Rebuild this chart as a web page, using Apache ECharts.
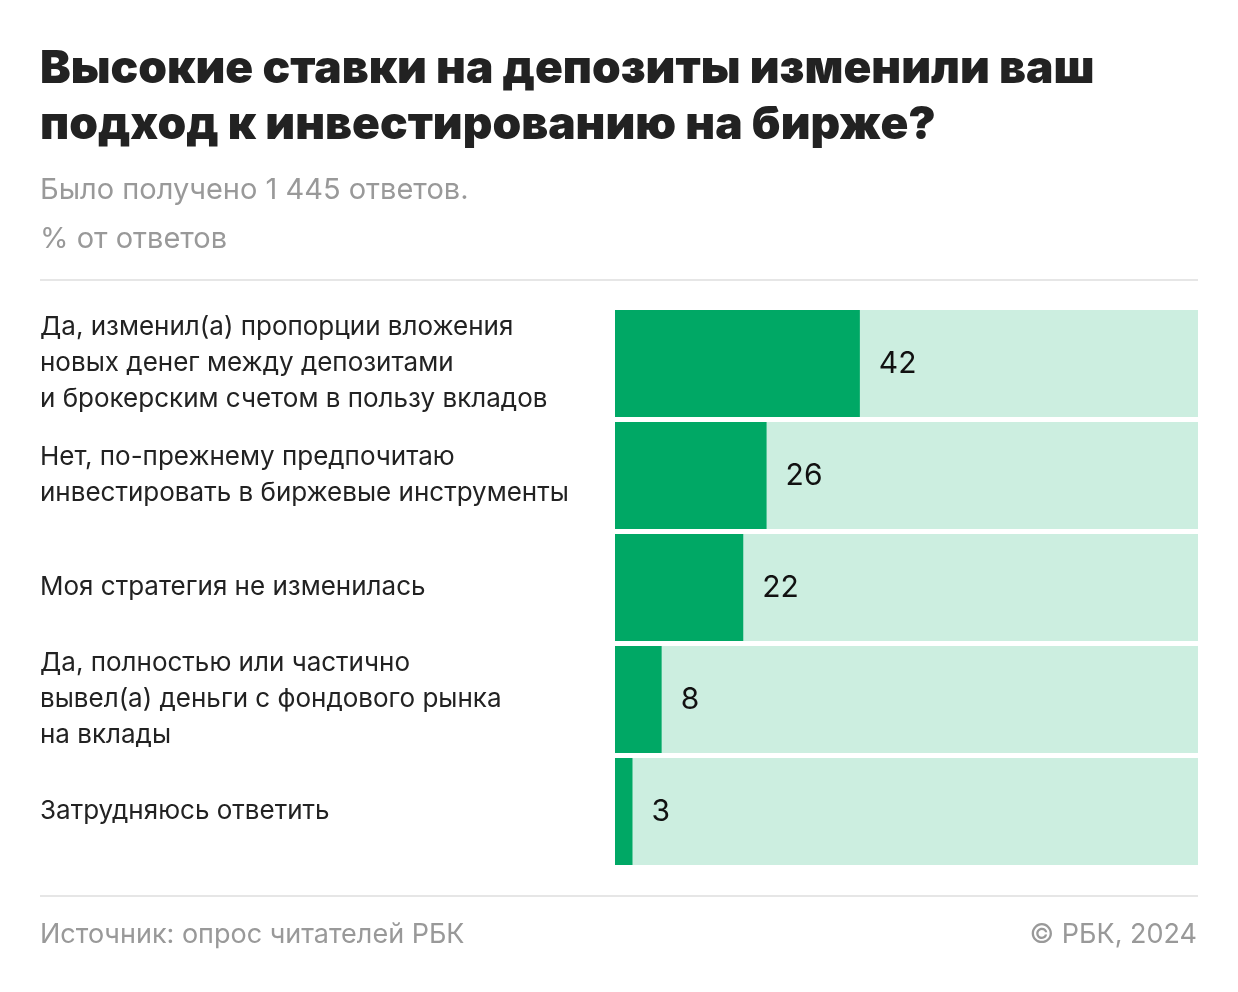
<!DOCTYPE html>
<html>
<head>
<meta charset="utf-8">
<script src="https://cdn.jsdelivr.net/npm/echarts@6/dist/echarts.min.js"></script>
<style>
html,body{margin:0;padding:0;background:#fff;}
#chart{width:1238px;height:992px;}
</style>
</head>
<body>
<div id="chart"></div>
<script>
const categories = [
  'Да, изменил(а) пропорции вложения\nновых денег между депозитами\nи брокерским счетом в пользу вкладов',
  'Нет, по-прежнему предпочитаю\nинвестировать в биржевые инструменты',
  'Моя стратегия не изменилась',
  'Да, полностью или частично\nвывел(а) деньги с фондового рынка\nна вклады',
  'Затрудняюсь ответить'
];
const values = [42, 26, 22, 8, 3];
const totals = [100, 100, 100, 100, 100];

const titleText = 'Высокие ставки на депозиты изменили ваш\nподход к инвестированию на бирже?';
const subtitle1 = 'Было получено 1 445 ответов.';
const subtitle2 = '% от ответов';
const sourceText = 'Источник: опрос читателей РБК';
const copyrightText = '© РБК, 2024';

const FONT = 'Inter, Roboto, sans-serif';
const chart = echarts.init(document.getElementById('chart'), null, {renderer: 'canvas'});
chart.setOption({
  backgroundColor: '#ffffff',
  animation: false,
  title: [
    {text: titleText, left: 40, top: 41, padding: 0,
     textStyle: {fontFamily: FONT, fontSize: 46, fontWeight: 900, color: '#222222', lineHeight: 56}},
    {text: subtitle1, left: 40, top: 172, padding: 0,
     textStyle: {fontFamily: FONT, fontSize: 29, fontWeight: 400, color: '#999999', lineHeight: 36}},
    {text: subtitle2, left: 40, top: 221, padding: 0,
     textStyle: {fontFamily: FONT, fontSize: 29, fontWeight: 400, color: '#999999', lineHeight: 36}},
    {text: sourceText, left: 40, top: 918, padding: 0,
     textStyle: {fontFamily: FONT, fontSize: 27, fontWeight: 400, color: '#999999', lineHeight: 34}},
    {text: copyrightText, right: 41, top: 918, padding: 0,
     textStyle: {fontFamily: FONT, fontSize: 27, fontWeight: 400, color: '#999999', lineHeight: 34}}
  ],
  graphic: [
    {type: 'line', shape: {x1: 40, y1: 280, x2: 1198, y2: 280}, style: {stroke: '#e6e6e6', lineWidth: 2}},
    {type: 'line', shape: {x1: 40, y1: 896, x2: 1198, y2: 896}, style: {stroke: '#e6e6e6', lineWidth: 2}}
  ],
  grid: {left: 615, right: 40, top: 307.5, height: 560, containLabel: false},
  xAxis: {type: 'value', min: 0, max: 100, show: false},
  yAxis: {
    type: 'category', data: categories, inverse: true,
    axisLine: {show: false}, axisTick: {show: false}, splitLine: {show: false},
    axisLabel: {
      align: 'left', margin: 575,
      fontFamily: FONT, fontSize: 26, color: '#222222', lineHeight: 36
    }
  },
  series: [
    {type: 'bar', data: totals, barWidth: 107, barGap: '-100%', silent: true,
     itemStyle: {color: '#cceee0'}, z: 1},
    {type: 'bar', data: values, barWidth: 107, z: 2,
     itemStyle: {color: '#00a865'},
     label: {show: true, position: 'right', distance: 19,
       fontFamily: FONT, fontSize: 30, color: '#111111'}}
  ]
});
</script>
</body>
</html>
